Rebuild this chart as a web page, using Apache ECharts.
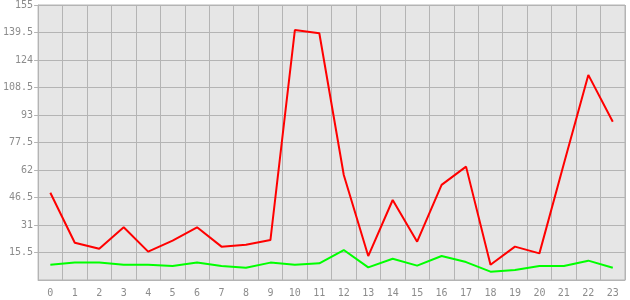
<!DOCTYPE html>
<html>
<head>
<meta charset="utf-8">
<script src="https://cdn.jsdelivr.net/npm/echarts@6/dist/echarts.min.js"></script>
<style>html,body{margin:0;padding:0;background:#fff}#c{width:630px;height:300px}</style>
</head>
<body>
<div id="c"></div>
<script>
var categories = ['0','1','2','3','4','5','6','7','8','9','10','11','12','13','14','15','16','17','18','19','20','21','22','23'];
var redValues = [49.2, 21.0, 17.6, 29.7, 16.0, 22.2, 29.7, 18.8, 19.9, 22.5, 140.9, 139.1, 59.2, 13.5, 45.1, 21.6, 53.6, 63.9, 8.6, 18.8, 15.0, 65.5, 115.6, 89.2];
var greenValues = [8.6, 9.8, 9.8, 8.6, 8.6, 7.9, 9.8, 7.9, 6.9, 9.8, 8.6, 9.4, 16.9, 7.1, 12.0, 8.1, 13.5, 10.1, 4.7, 5.6, 7.9, 7.9, 10.9, 6.9];
var yMin = 0, yMax = 155, yStep = 15.5;

var chart = echarts.init(document.getElementById('c'), null, {renderer: 'canvas'});
var lblFont = {color: '#8c8c8c', fontFamily: 'DejaVu Sans Mono', fontSize: 10};
chart.setOption({
  animation: false,
  backgroundColor: '#ffffff',
  grid: {left: 38, right: 5, top: 5, bottom: 20, show: true, backgroundColor: '#e6e6e6', borderColor: '#b4b4b4', borderWidth: 1},
  xAxis: {
    type: 'category', data: categories, boundaryGap: true,
    axisLine: {lineStyle: {color: '#b4b4b4', width: 1}},
    axisTick: {alignWithLabel: true, length: 5, lineStyle: {color: '#b4b4b4'}},
    axisLabel: Object.assign({margin: 8, interval: 0}, lblFont),
    splitLine: {show: true, interval: 0, lineStyle: {color: '#b4b4b4', width: 1}}
  },
  yAxis: {
    type: 'value', min: yMin, max: yMax, interval: yStep,
    axisLine: {show: true, lineStyle: {color: '#b4b4b4', width: 1}},
    axisTick: {show: true, length: 4, lineStyle: {color: '#b4b4b4'}},
    axisLabel: Object.assign({margin: 5, showMinLabel: false}, lblFont),
    splitLine: {show: true, lineStyle: {color: '#b4b4b4', width: 1}}
  },
  series: [
    {type: 'line', data: redValues, symbol: 'none', lineStyle: {color: '#ff0000', width: 2}, itemStyle: {color: '#ff0000'}},
    {type: 'line', data: greenValues, symbol: 'none', lineStyle: {color: '#00ff00', width: 2}, itemStyle: {color: '#00ff00'}}
  ]
});
</script>
</body>
</html>
